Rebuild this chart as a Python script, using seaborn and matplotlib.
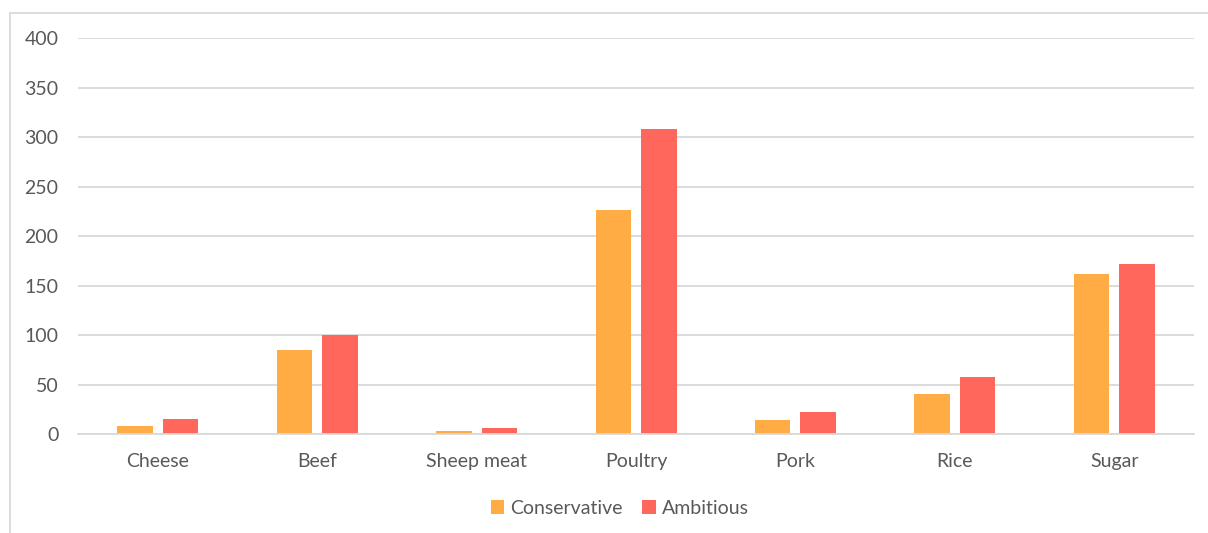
import matplotlib
matplotlib.use("Agg")
import matplotlib.pyplot as plt
from matplotlib.lines import Line2D
from matplotlib.patches import Patch
import pandas as pd
import seaborn as sns

categories = ["Cheese", "Beef", "Sheep meat", "Poultry", "Pork", "Rice", "Sugar"]
conservative = [8, 85, 3, 226, 14, 40, 162]
ambitious = [15, 100, 6, 308, 22, 58, 172]
series_names = ["Conservative", "Ambitious"]
y_ticks = [0, 50, 100, 150, 200, 250, 300, 350, 400]

colors = {"Conservative": "#FFAC45", "Ambitious": "#FF675C"}
text_color = "#595959"
grid_color = "#D9D9D9"

df = pd.DataFrame({
    "category": categories * 2,
    "scenario": [series_names[0]] * len(categories) + [series_names[1]] * len(categories),
    "value": conservative + ambitious,
})

sns.set_theme(style="white")
plt.rcParams["font.family"] = ["Lato", "DejaVu Sans"]

fig = plt.figure(figsize=(12.08, 5.33), dpi=100)
ax = fig.add_axes([0.0646, 0.1857, 0.9238, 0.7430])

sns.barplot(data=df, x="category", y="value", hue="scenario", order=categories,
            hue_order=series_names, palette=colors, width=0.571, gap=0.22,
            errorbar=None, ax=ax, legend=False, saturation=1, linewidth=0)

ax.set_ylim(0, 400)
ax.set_xlim(-0.5, len(categories) - 0.5)
ax.set_yticks(y_ticks)
ax.set_yticklabels([str(t) for t in y_ticks], color=text_color, fontsize=14)
ax.yaxis.grid(True, color=grid_color, linewidth=1.3)
ax.set_axisbelow(True)
ax.tick_params(axis="y", length=0, pad=14)
ax.tick_params(axis="x", which="major", length=0, pad=14, labelsize=14, labelcolor=text_color)
ax.set_xticks([i - 0.5 for i in range(len(categories) + 1)], minor=True)
ax.tick_params(axis="x", which="minor", length=6, width=1.3, color=grid_color, direction="out")
ax.set_xlabel("")
ax.set_ylabel("")
for side in ["top", "right", "left"]:
    ax.spines[side].set_visible(False)
ax.spines["bottom"].set_color(grid_color)
ax.spines["bottom"].set_linewidth(1.3)

# outer chart frame
fig.add_artist(Line2D([10 / 1208, 10 / 1208], [0, 1 - 13 / 533], transform=fig.transFigure,
                      color="#D9D9D9", linewidth=1.3))
fig.add_artist(Line2D([10 / 1208, 1], [1 - 13 / 533, 1 - 13 / 533], transform=fig.transFigure,
                      color="#D9D9D9", linewidth=1.3))

handles = [Patch(facecolor=colors[n], edgecolor="none", label=n) for n in series_names]
fig.legend(handles=handles, loc="center", bbox_to_anchor=(0.513, 1 - 508 / 533), ncol=2,
           frameon=False, fontsize=14, labelcolor=text_color, handlelength=0.7,
           handleheight=0.7, handletextpad=0.3, columnspacing=1.0)

fig.savefig("out.png", dpi=100, facecolor="white")
